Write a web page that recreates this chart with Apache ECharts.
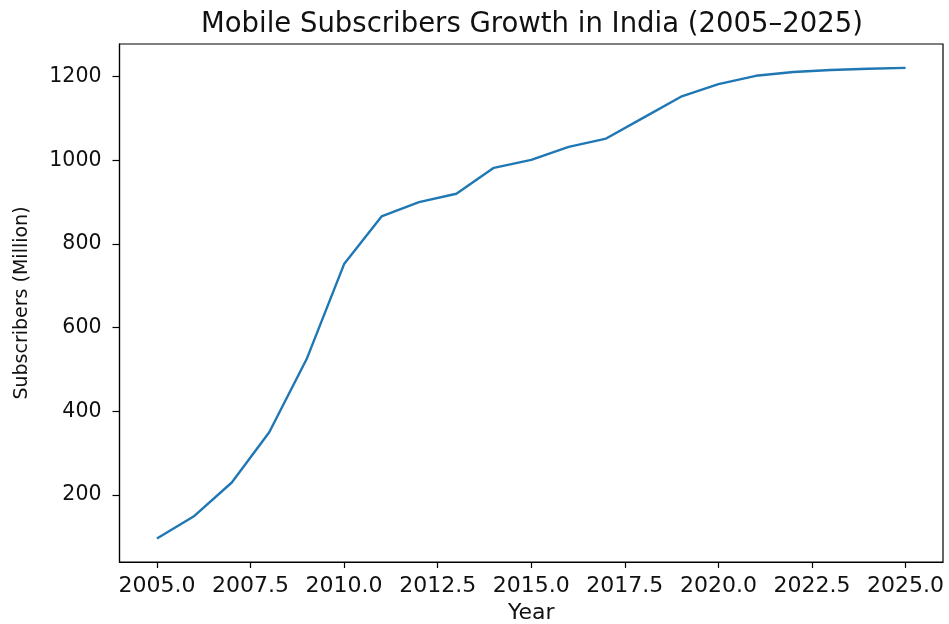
<!DOCTYPE html>
<html>
<head>
<meta charset="utf-8">
<script src="https://cdn.jsdelivr.net/npm/echarts@6/dist/echarts.min.js"></script>
<style>
  html, body { margin: 0; padding: 0; background: #fff; }
  #chart { width: 949px; height: 624px; }
</style>
</head>
<body>
<div id="chart"></div>
<script>
// Mobile subscribers in India, millions per year
const years = [2005, 2006, 2007, 2008, 2009, 2010, 2011, 2012, 2013, 2014, 2015,
               2016, 2017, 2018, 2019, 2020, 2021, 2022, 2023, 2024, 2025];
const subscribers = [96, 150, 230, 350, 525, 752, 866, 900, 920, 982, 1001,
                     1032, 1052, 1102, 1152, 1182, 1202, 1211, 1216, 1219, 1221];

// Tick positions shown on each axis
const xTicks = [2005, 2007.5, 2010, 2012.5, 2015, 2017.5, 2020, 2022.5, 2025];
const yTicks = [200, 400, 600, 800, 1000, 1200];

const FONT = 'DejaVu Sans';
const INK = '#111111';

const chart = echarts.init(document.getElementById('chart'), null, { renderer: 'canvas' });

chart.setOption({
  backgroundColor: '#ffffff',
  animation: false,
  title: {
    text: 'Mobile Subscribers Growth in India (2005\u20132025)',
    left: 527,
    top: 6,
    textAlign: 'center',
    textStyle: { fontFamily: FONT, fontSize: 27.5, fontWeight: 'normal', color: INK }
  },
  grid: {
    left: 119.5,
    right: 6,
    top: 44,
    bottom: 62,
    outerBoundsMode: 'none',
    containLabel: false,
    show: true,
    borderColor: '#000',
    borderWidth: 1.2,
    backgroundColor: 'transparent'
  },
  xAxis: {
    type: 'value',
    min: 2004,
    max: 2026,
    name: 'Year',
    nameLocation: 'middle',
    nameGap: 36,
    nameTextStyle: { fontFamily: FONT, fontSize: 22, color: INK },
    axisLine: { show: true, onZero: false, lineStyle: { color: '#000', width: 1.2 } },
    axisTick: { show: true, length: 6, lineStyle: { color: '#000', width: 1.2 }, customValues: xTicks },
    axisLabel: {
      fontFamily: FONT, fontSize: 22, color: INK, margin: 13,
      customValues: xTicks,
      formatter: v => v.toFixed(1)
    },
    splitLine: { show: false }
  },
  yAxis: {
    type: 'value',
    min: 40,
    max: 1278,
    name: 'Subscribers (Million)',
    nameLocation: 'middle',
    nameRotate: 90,
    nameGap: 88,
    nameTextStyle: { fontFamily: FONT, fontSize: 19, color: INK },
    axisLine: { show: true, onZero: false, lineStyle: { color: '#000', width: 1.2 } },
    axisTick: { show: true, length: 7, lineStyle: { color: '#000', width: 1.2 }, customValues: yTicks },
    axisLabel: {
      fontFamily: FONT, fontSize: 20.5, color: INK, margin: 18,
      customValues: yTicks,
      formatter: v => String(v)
    },
    splitLine: { show: false }
  },
  series: [{
    type: 'line',
    data: years.map((y, i) => [y, subscribers[i]]),
    showSymbol: false,
    smooth: false,
    lineStyle: { color: '#1f77b4', width: 2.4 },
    itemStyle: { color: '#1f77b4' }
  }]
});
</script>
</body>
</html>
